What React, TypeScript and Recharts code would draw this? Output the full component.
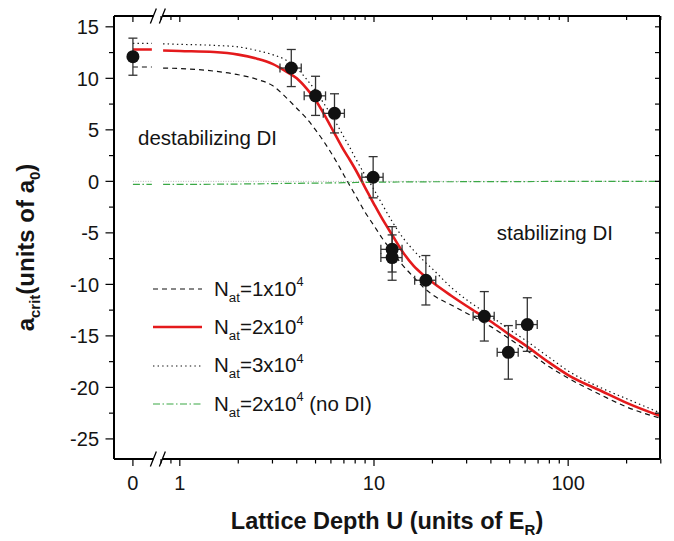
import React from 'react';
import { ComposedChart, Line, Scatter, XAxis, YAxis, ErrorBar, Legend, ReferenceLine } from 'recharts';

// ---------- broken log axis: U=0 drawn left of the break, U>0 on log10 scale ----------
const ZERO_POS = -0.2416;
const BREAK_LEFT = -0.144;
const BREAK_POS = -0.1131;
const X_DOMAIN: [number, number] = [-0.339, 2.473];
const Y_DOMAIN: [number, number] = [-26.95, 16.05];

// ---------- curves (theory) ----------
const CURVE_U = [0.82, 1, 1.5, 2, 2.5, 3, 3.5, 4, 4.5, 5, 5.5, 6, 6.5, 7, 7.5, 8, 9, 10, 11, 12.5, 14, 16, 18, 20, 25, 30, 40, 50, 60, 80, 100, 150, 200, 300];
const N1 = [11.0, 10.95, 10.7, 10.35, 9.9, 9.3, 8.2, 7.1, 6.1, 5.0, 3.9, 2.8, 1.7, 0.6, -0.4, -1.3, -3.0, -4.3, -5.5, -6.9, -8.1, -9.3, -10.3, -11.0, -12.0, -12.8, -14.1, -15.3, -16.3, -18.0, -19.1, -20.8, -21.9, -23.0];
const N2 = [12.7, 12.65, 12.55, 12.3, 11.9, 11.4, 10.7, 10.0, 9.0, 7.9, 6.6, 5.3, 4.1, 3.0, 2.1, 1.2, -0.6, -2.2, -3.6, -5.3, -6.8, -8.2, -9.1, -9.8, -11.1, -12.1, -13.6, -14.9, -15.9, -17.6, -18.8, -20.4, -21.5, -22.8];
const N3 = [13.35, 13.3, 13.2, 13.05, 12.7, 12.3, 11.8, 11.0, 9.9, 8.8, 7.6, 6.5, 5.4, 4.3, 3.3, 2.3, 0.6, -0.8, -2.2, -4.0, -5.4, -6.7, -7.7, -8.5, -10.3, -11.5, -13.1, -14.4, -15.4, -17.1, -18.4, -20.1, -21.1, -22.5];
const N2_NODI = [-0.3, -0.3, -0.28, -0.26, -0.24, -0.22, -0.2, -0.19, -0.18, -0.17, -0.16, -0.15, -0.14, -0.13, -0.12, -0.11, -0.1, -0.09, -0.08, -0.07, -0.06, -0.05, -0.05, -0.04, -0.04, -0.03, -0.03, -0.02, -0.02, -0.01, -0.01, 0, 0, 0];
const N1_AT_ZERO = 11.1;
const N2_AT_ZERO = 12.8;
const N3_AT_ZERO = 13.4;
const NODI_AT_ZERO = -0.3;

// ---------- measurements ----------
const POINT_U = [0, 3.75, 5.0, 6.26, 9.9, 12.4, 12.4, 18.5, 37, 49.2, 61.6];
const POINT_A = [12.1, 11.0, 8.3, 6.6, 0.4, -6.6, -7.4, -9.6, -13.1, -16.6, -13.9];
const POINT_A_ERR = [1.8, 1.8, 1.9, 1.9, 2.0, 2.2, 2.2, 2.4, 2.4, 2.6, 2.6];
const POINT_U_ERR = [0, 0.47, 0.63, 0.78, 1.24, 1.55, 1.55, 2.3, 4.6, 6.1, 7.7];

// ---------- ticks ----------
const X_MAJOR_U = [0, 1, 10, 100];
const X_TICK_LABELS = ['0', '1', '10', '100'];
const X_MINOR_U = [0.8, 0.9, 2, 3, 4, 5, 6, 7, 8, 9, 20, 30, 40, 50, 60, 70, 80, 90, 200, 300];
const Y_MAJOR = [-25, -20, -15, -10, -5, 0, 5, 10, 15];
const Y_MINOR = [-22.5, -17.5, -12.5, -7.5, -2.5, 2.5, 7.5, 12.5];

// ---------- legend ----------
const LEGEND_N = ['1', '2', '3', '2'];
const LEGEND_SUFFIX = ['', '', '', ' (no DI)'];

const pos = (u: number) => (u === 0 ? ZERO_POS : Math.log10(u));

const curveRows: any[] = [
  { t: ZERO_POS, n1: N1_AT_ZERO, n2: N2_AT_ZERO, n3: N3_AT_ZERO, g: NODI_AT_ZERO },
  { t: BREAK_LEFT, n1: N1_AT_ZERO, n2: N2_AT_ZERO, n3: N3_AT_ZERO, g: NODI_AT_ZERO },
  { t: BREAK_POS, n1: null, n2: null, n3: null, g: null },
  ...CURVE_U.map((u, i) => ({ t: Math.log10(u), n1: N1[i], n2: N2[i], n3: N3[i], g: N2_NODI[i] })),
];

const pointRows = POINT_U.map((u, i) => ({
  t: pos(u),
  a: POINT_A[i],
  ey: POINT_A_ERR[i],
  ex: POINT_U_ERR[i] > 0
    ? [pos(u) - Math.log10(u - POINT_U_ERR[i]), Math.log10(u + POINT_U_ERR[i]) - pos(u)]
    : null,
}));

const X_MAJOR_POS = X_MAJOR_U.map(pos);
const X_TICKS = [...X_MAJOR_POS, BREAK_POS, ...X_MINOR_U.map(pos)].sort((a, b) => a - b);
const Y_TICKS = [...Y_MAJOR, ...Y_MINOR].sort((a, b) => a - b);

const FONT = '"Liberation Sans", Arial, Helvetica, sans-serif';
const TICK_FONT = 20;
const INK = '#141414';

const SERIES_STYLE = [
  { key: 'n1', color: '#111', width: 1.2, dash: '5 4' },
  { key: 'n2', color: '#e41a1c', width: 2.6, dash: undefined },
  { key: 'n3', color: '#111', width: 1.2, dash: '1.4 3.2' },
  { key: 'g', color: '#3aa845', width: 1.2, dash: '7 2.5 1.5 2.5' },
];

function makeXTick(side: 'bottom' | 'top') {
  return (props: any) => {
    const { x, y, payload } = props;
    const v = payload.value;
    if (Math.abs(v - BREAK_POS) < 1e-9) {
      return (
        <g>
          <rect x={x - 4.5} y={y - 2} width={9} height={4} fill="#fff" />
          <line x1={x - 7.5} y1={y + 7.5} x2={x - 1.5} y2={y - 7.5} stroke="#000" strokeWidth={1.3} />
          <line x1={x + 1.5} y1={y + 7.5} x2={x + 7.5} y2={y - 7.5} stroke="#000" strokeWidth={1.3} />
        </g>
      );
    }
    const idx = X_MAJOR_POS.findIndex((m) => Math.abs(m - v) < 1e-9);
    const major = idx >= 0;
    const len = side === 'bottom' ? (major ? 7 : 4.5) : major ? 6 : 4;
    return (
      <g>
        <line x1={x} y1={y} x2={x} y2={y + len} stroke="#000" strokeWidth={1.2} />
        {side === 'bottom' && major && (
          <text x={x} y={y + 31} textAnchor="middle" fontSize={TICK_FONT} fontFamily={FONT} fill={INK}>
            {X_TICK_LABELS[idx]}
          </text>
        )}
      </g>
    );
  };
}

function makeYTick(side: 'left' | 'right') {
  return (props: any) => {
    const { x, y, payload } = props;
    const v = payload.value;
    const major = Y_MAJOR.includes(v);
    if (side === 'right') {
      return <line x1={x - 5} y1={y} x2={x} y2={y} stroke="#000" strokeWidth={1.2} />;
    }
    const len = major ? 8.5 : 5;
    return (
      <g>
        <line x1={x - len} y1={y} x2={x} y2={y} stroke="#000" strokeWidth={1.2} />
        {major && (
          <text x={x - 15} y={y} dy="0.36em" textAnchor="end" fontSize={TICK_FONT} fontFamily={FONT} fill={INK}>
            {String(v)}
          </text>
        )}
      </g>
    );
  };
}

const xTitle = (p: any) => {
  const vb = p.viewBox || { x: 106, y: 451, width: 546 };
  const cx = vb.x + vb.width / 2;
  const cy = vb.y + 70;
  return (
    <text x={cx} y={cy} textAnchor="middle" fontFamily={FONT} fontWeight="bold" fontSize={23.5} fill={INK}>
      Lattice Depth U (units of E
      <tspan dy={6} fontSize={15}>R</tspan>
      <tspan dy={-6}>)</tspan>
    </text>
  );
};

const yTitle = (p: any) => {
  const vb = p.viewBox || { x: 0, y: 8, height: 443 };
  const cx = 26;
  const cy = vb.y + vb.height / 2 + 10;
  return (
    <text x={cx} y={cy} transform={`rotate(-90 ${cx} ${cy})`} textAnchor="middle" fontFamily={FONT} fontWeight="bold" fontSize={24} fill={INK}>
      a
      <tspan dy={6} fontSize={15}>crit</tspan>
      <tspan dy={-6}>(units of a</tspan>
      <tspan dy={6} fontSize={15}>0</tspan>
      <tspan dy={-6}>)</tspan>
    </text>
  );
};

const renderLegend = () => (
  <div style={{ fontFamily: FONT, color: INK }}>
    {SERIES_STYLE.map((s, i) => (
      <div key={s.key} style={{ display: 'flex', alignItems: 'center', height: 38.3 }}>
        <svg width={50} height={10} style={{ display: 'block' }}>
          <line x1={0} y1={5} x2={49} y2={5} stroke={s.color} strokeWidth={s.width} strokeDasharray={s.dash} />
        </svg>
        <span style={{ marginLeft: 11, fontSize: 20.5, lineHeight: 1, whiteSpace: 'nowrap', position: 'relative', top: 0 }}>
          N
          <span style={{ fontSize: '0.65em', position: 'relative', top: '0.45em' }}>at</span>
          ={LEGEND_N[i]}x10
          <span style={{ fontSize: '0.62em', position: 'relative', top: '-0.75em' }}>4</span>
          {LEGEND_SUFFIX[i]}
        </span>
      </div>
    ))}
  </div>
);

export default function App() {
  return (
    <div style={{ position: 'relative', width: 666, height: 533, fontFamily: FONT }}>
      <ComposedChart width={666} height={533} data={curveRows} margin={{ top: 7, right: 13, bottom: 0, left: 0 }}>
        <XAxis
          dataKey="t"
          type="number"
          domain={X_DOMAIN}
          allowDataOverflow
          ticks={X_TICKS}
          interval={0}
          height={82}
          tickSize={0}
          tickMargin={0}
          tickLine={false}
          axisLine={{ stroke: '#000', strokeWidth: 2 }}
          tick={makeXTick('bottom')}
          label={xTitle}
        />
        <XAxis
          xAxisId="top"
          orientation="top"
          dataKey="t"
          type="number"
          domain={X_DOMAIN}
          allowDataOverflow
          ticks={X_TICKS}
          interval={0}
          height={1}
          tickSize={0}
          tickMargin={0}
          tickLine={false}
          axisLine={{ stroke: '#000', strokeWidth: 2 }}
          tick={makeXTick('top')}
        />
        <YAxis
          type="number"
          domain={Y_DOMAIN}
          allowDataOverflow
          ticks={Y_TICKS}
          interval={0}
          width={106}
          tickSize={0}
          tickMargin={0}
          tickLine={false}
          axisLine={{ stroke: '#000', strokeWidth: 2 }}
          tick={makeYTick('left')}
          label={yTitle}
        />
        <YAxis
          yAxisId="right"
          orientation="right"
          type="number"
          domain={Y_DOMAIN}
          allowDataOverflow
          ticks={Y_TICKS}
          interval={0}
          width={1}
          tickSize={0}
          tickMargin={0}
          tickLine={false}
          axisLine={{ stroke: '#000', strokeWidth: 2 }}
          tick={makeYTick('right')}
        />
        <ReferenceLine segment={[{ x: ZERO_POS, y: 0 }, { x: BREAK_LEFT, y: 0 }]} stroke="#b5b5b5" strokeDasharray="1 1.5" strokeWidth={1} />
        <ReferenceLine segment={[{ x: Math.log10(CURVE_U[0]), y: 0 }, { x: X_DOMAIN[1], y: 0 }]} stroke="#b5b5b5" strokeDasharray="1 1.5" strokeWidth={1} />
        {SERIES_STYLE.map((s) => (
          <Line
            key={s.key}
            dataKey={s.key}
            type="monotone"
            stroke={s.color}
            strokeWidth={s.width}
            strokeDasharray={s.dash}
            dot={false}
            activeDot={false}
            connectNulls={false}
            isAnimationActive={false}
          />
        ))}
        <Scatter
          data={pointRows}
          dataKey="a"
          isAnimationActive={false}
          shape={(p: any) => <circle cx={p.cx} cy={p.cy} r={6.5} fill="#111" />}
        >
          <ErrorBar dataKey="ey" direction="y" width={4.5} stroke="#333" strokeWidth={1.3} />
          <ErrorBar dataKey="ex" direction="x" width={4.5} stroke="#333" strokeWidth={1.3} />
        </Scatter>
        <Legend
          layout="vertical"
          align="center"
          verticalAlign="middle"
          wrapperStyle={{ left: 145, top: 262, width: 280 }}
          content={renderLegend}
        />
      </ComposedChart>
      <div style={{ position: 'absolute', left: 130, top: 120.3, fontSize: 20.5, lineHeight: 1, color: INK, whiteSpace: 'nowrap' }}>
        destabilizing DI
      </div>
      <div style={{ position: 'absolute', left: 488.7, top: 215.3, fontSize: 20.5, lineHeight: 1, color: INK, whiteSpace: 'nowrap' }}>
        stabilizing DI
      </div>
    </div>
  );
}
